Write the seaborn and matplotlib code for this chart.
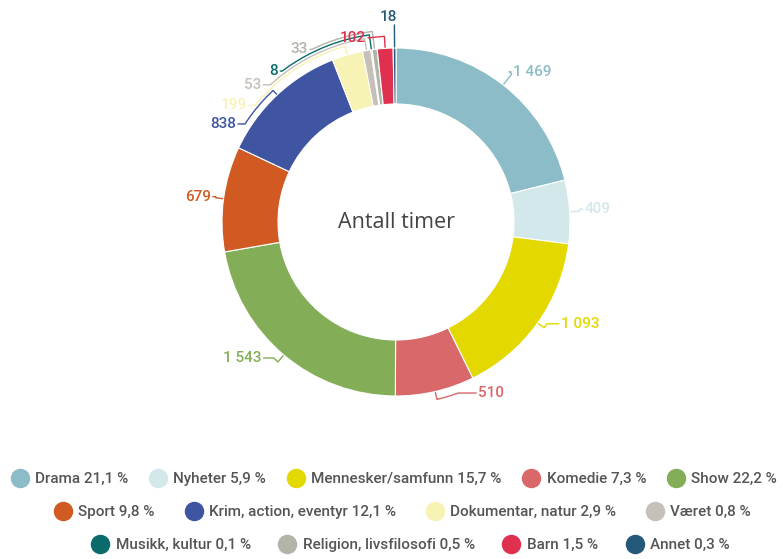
import numpy as np
import matplotlib.pyplot as plt
import seaborn as sns
from matplotlib.lines import Line2D

categories = ["Drama", "Nyheter", "Mennesker/samfunn", "Komedie", "Show", "Sport",
              "Krim, action, eventyr", "Dokumentar, natur", "Været", "Musikk, kultur",
              "Religion, livsfilosofi", "Barn", "Annet"]
hours = [1469, 409, 1093, 510, 1543, 679, 838, 199, 53, 8, 33, 102, 18]
shares = ["21,1 %", "5,9 %", "15,7 %", "7,3 %", "22,2 %", "9,8 %", "12,1 %",
          "2,9 %", "0,8 %", "0,1 %", "0,5 %", "1,5 %", "0,3 %"]
colors = ["#8bbcc7", "#d3e8ea", "#e3d800", "#d9686a", "#84ad57", "#d05a22",
          "#3f55a2", "#f7f3b5", "#c5c0b8", "#0b6b6b", "#b0b5a8", "#e0304f", "#25597a"]
legend_rows = [[0, 1, 2, 3, 4], [5, 6, 7, 8], [9, 10, 11, 12]]

# label placement: angle (deg clockwise from top), leader arc radius, tail length, side
label_layout = [
    (37, 188, 2, "left"),
    (86, 184, 3, "left"),
    (124, 182, 12, "left"),
    (160, 182, 18, "left"),
    (222, 183, 10, "right"),
    (278, 182, 3, "right"),
    (303, 180, 7, "right"),
    (309.6, 183, 6, "right"),
    (317.5, 186, 7, "right"),
    (323, 189, 2, "right"),
    (334, 192, 2, "right"),
    (352, 186, 2, "right"),
    (359.6, 197, 0, "top"),
]
# legend row placement: vertical position, horizontal centre, column spacing
legend_layout = [(0.143, 0.504, 1.45), (0.084, 0.515, 2.05), (0.025, 0.525, 1.9)]

sns.set_theme(style="white")
plt.rcParams["font.family"] = ["Roboto", "DejaVu Sans"]

W, H = 783, 559
fig = plt.figure(figsize=(W / 100, H / 100), dpi=100)
ax = fig.add_axes([0, 0, 1, 1])

cx, cy, R = 396, 337, 174
ax.pie(hours, colors=sns.color_palette(colors), startangle=90, counterclock=False,
       radius=R, center=(cx, cy),
       wedgeprops=dict(width=56, edgecolor="white", linewidth=0.8))
ax.set_xlim(0, W)
ax.set_ylim(0, H)
ax.set_aspect("equal")
ax.axis("off")


def polar(theta, r):
    t = np.deg2rad(theta)
    return cx + r * np.sin(t), cy + r * np.cos(t)


total = sum(hours)
cum = np.cumsum([0] + hours)
for i, v in enumerate(hours):
    mid = (cum[i] + cum[i + 1]) / 2 / total * 360
    th, ra, tail, side = label_layout[i]
    x0, y0 = polar(mid, 175)
    arc = np.linspace(mid, th, 40)
    xs = [x0] + [polar(a, ra)[0] for a in arc]
    ys = [y0] + [polar(a, ra)[1] for a in arc]
    ex, ey = xs[-1], ys[-1]
    txt = f"{v:,}".replace(",", " ")
    if side == "left":
        xs.append(ex + tail)
        ys.append(ey)
        ax.plot(xs, ys, color=colors[i], lw=1)
        ax.text(ex + tail + 2, ey, txt, color=colors[i], ha="left", va="center",
                fontsize=11, fontweight="medium")
    elif side == "right":
        xs.append(ex - tail)
        ys.append(ey)
        ax.plot(xs, ys, color=colors[i], lw=1)
        ax.text(ex - tail - 2, ey, txt, color=colors[i], ha="right", va="center",
                fontsize=11, fontweight="medium")
    else:
        ax.plot(xs, ys, color=colors[i], lw=1)
        ax.text(ex - 6, ey + 1, txt, color=colors[i], ha="center", va="bottom",
                fontsize=11, fontweight="medium")

ax.text(cx, cy, "Antall timer", ha="center", va="center", fontsize=15.5,
        color="#444444", family=["Open Sans", "DejaVu Sans"])

for row, (y, x, spacing) in zip(legend_rows, legend_layout):
    handles = [Line2D([], [], marker="o", linestyle="", markersize=13,
                      markerfacecolor=colors[i], markeredgecolor=colors[i])
               for i in row]
    labels = [f"{categories[i]} {shares[i]}" for i in row]
    fig.legend(handles, labels, loc="center", bbox_to_anchor=(x, y), ncol=len(row),
               frameon=False, handlelength=1.0, handletextpad=0.5, columnspacing=spacing,
               borderpad=0, prop=dict(size=11, weight="medium"), labelcolor="#555555")

fig.savefig("out.png", dpi=100)
